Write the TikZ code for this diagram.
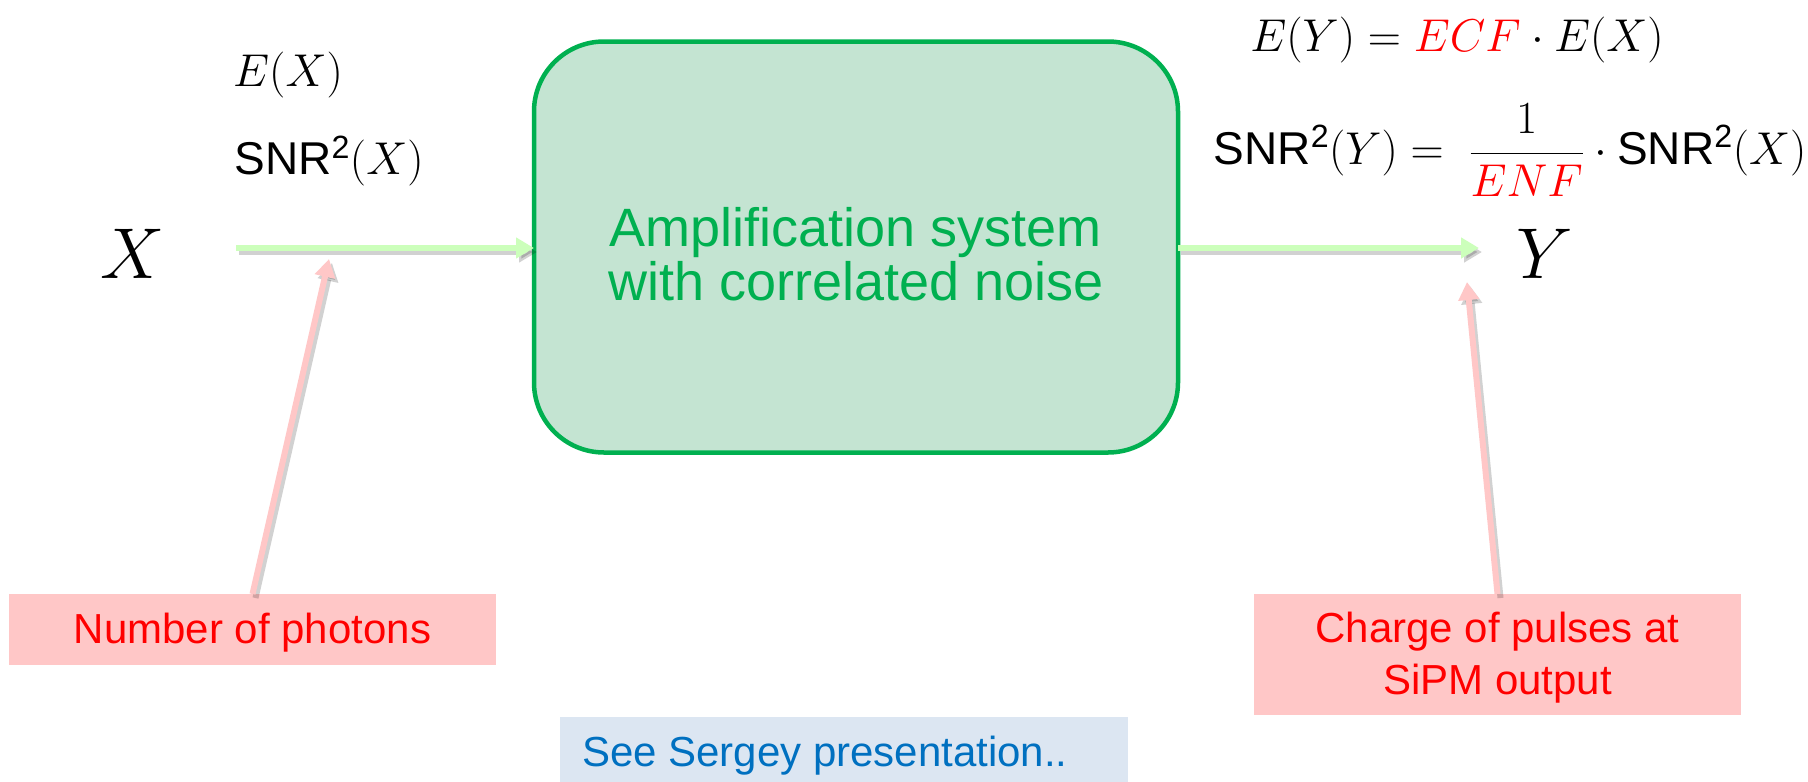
\RequirePackage{fix-cm}
\documentclass[tikz,border=0pt]{standalone}
\usepackage{amsmath}
\usepackage{fontspec}
\setmainfont{Liberation Sans}
\usetikzlibrary{arrows.meta}
\definecolor{boxfill}{HTML}{C4E4D2}
\definecolor{boxline}{HTML}{00B050}
\definecolor{flowgreen}{HTML}{CCFFBB}
\definecolor{notefill}{HTML}{FFC7C7}
\definecolor{notered}{HTML}{FF0000}
\definecolor{seefill}{HTML}{DCE6F2}
\definecolor{seeblue}{HTML}{0070C0}
\tikzset{
  every node/.style={inner sep=0pt, outer sep=0pt},
  ampbox/.style={draw=boxline, line width=4.5pt, fill=boxfill, rounded corners=70pt,
    minimum width=644pt, minimum height=411pt},
  amptext/.style={text=boxline, align=center, font=\fontsize{54}{54}\selectfont},
  notebox/.style={fill=notefill},
  notetext/.style={text=notered, align=center, font=\fontsize{42}{52}\selectfont},
  seebox/.style={fill=seefill},
  seetext/.style={text=seeblue, font=\fontsize{42}{52}\selectfont},
  bigvar/.style={font=\fontsize{72}{76}\selectfont},
  eqtext/.style={font=\fontsize{46}{52}\selectfont},
  tip/.style={-{Triangle[length=18pt,width=20pt]}},
  flow/.style={draw=flowgreen, line width=6pt, tip},
  shade/.style={draw=black, draw opacity=0.18, fill opacity=0.18, line width=6pt, tip,
    transform canvas={shift={(3,4)}}},
  pointer/.style={draw=notefill, line width=6pt, tip},
}
\begin{document}
\begin{tikzpicture}[x=1pt, y=-1pt]
\useasboundingbox (0,0) rectangle (1808,782);

% main block
\node[ampbox] (amp) at (856,247) {};
\node[amptext] (amplabel) at (856,254) {Amplification system\\with correlated noise};

% variables
\node[bigvar] (X) at (133,254) {$X$};
\node[bigvar] (Y) at (1545,254) {$Y$};

% input annotations
\node[eqtext] (ex) at (288,75) {$E(X)$};
\node[eqtext] (snrx) at (329,161) {SNR\textsuperscript{2}$(X)$};

% output equations
\node[eqtext] (ey) at (1457,40) {$E(Y)=\textcolor{notered}{ECF}\cdot E(X)$};
\node[eqtext] (snry) at (1510,150) {SNR\textsuperscript{2}$(Y)=\;\dfrac{1}{\textcolor{notered}{ENF}}\cdot\text{SNR\textsuperscript{2}}(X)$};

% notes
\node[notebox, minimum width=487pt, minimum height=71pt] (photons) at (252.5,629.5) {};
\node[notetext] (photonstext) at (252.5,633) {Number of photons};
\node[notebox, minimum width=487pt, minimum height=121pt] (charge) at (1497.5,654.5) {};
\node[notetext] (chargetext) at (1497.5,658) {Charge of pulses at\\SiPM output};
\node[seebox, minimum width=568pt, minimum height=65pt] (see) at (844,749.5) {};
\node[seetext, anchor=west] (seetextnode) at (582,755.5) {See Sergey presentation..};

% connector end points
\coordinate (xs) at (236,248);
\coordinate (ye) at (1479,248);
\coordinate (p1) at (329,259);
\coordinate (p2) at (1467,282);

% shadows
\draw[shade] (xs) -- (amp.west |- xs);
\draw[shade] (amp.east |- ye) -- (ye);
\draw[shade] (photons.north) -- (p1);
\draw[shade] (charge.north) -- (p2);

% connectors
\draw[flow] (xs) -- (amp.west |- xs);
\draw[flow] (amp.east |- ye) -- (ye);
\draw[pointer] (photons.north) -- (p1);
\draw[pointer] (charge.north) -- (p2);
\end{tikzpicture}
\end{document}
